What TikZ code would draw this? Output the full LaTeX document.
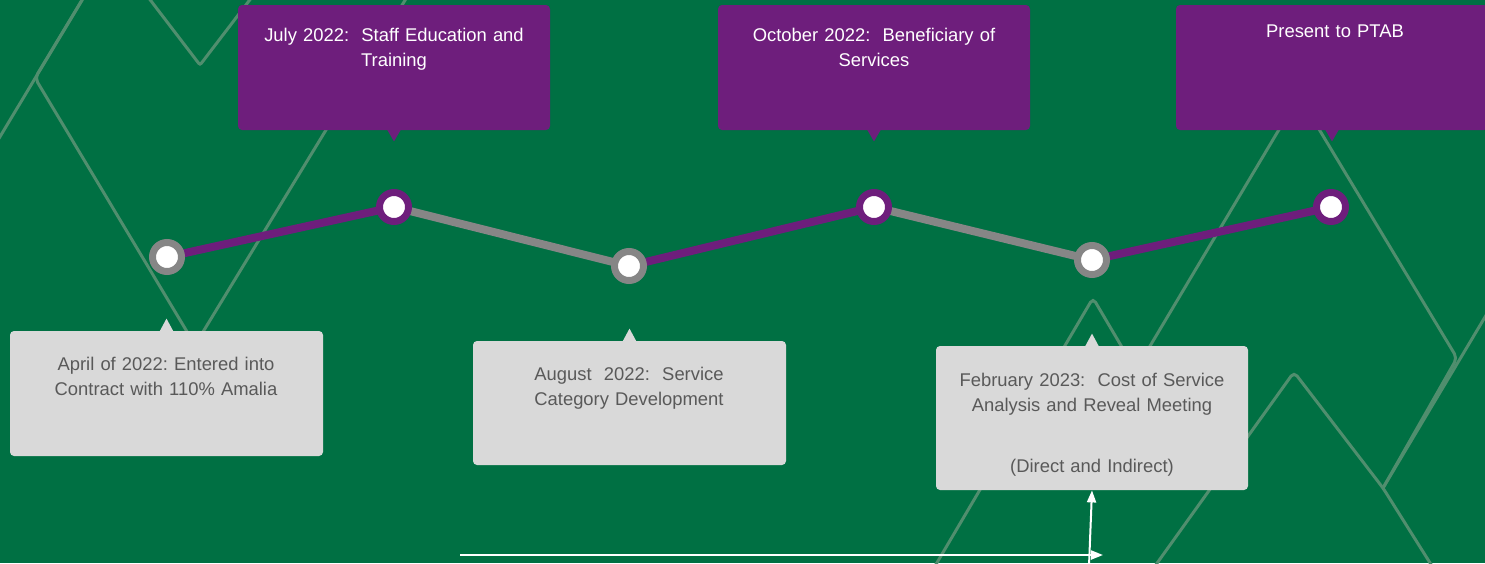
\documentclass[tikz,border=0pt]{standalone}
\usepackage{fontspec}
\setmainfont{Liberation Sans}
\usetikzlibrary{arrows.meta}
\definecolor{bggreen}{RGB}{0,112,67}
\definecolor{mtnline}{RGB}{80,142,110}
\definecolor{tlpurple}{RGB}{110,30,124}
\definecolor{tlgray}{RGB}{134,134,134}
\definecolor{boxgray}{RGB}{217,217,217}
\definecolor{txtgray}{RGB}{89,89,89}
\pgfdeclarelayer{back}
\pgfdeclarelayer{mid}
\pgfsetlayers{back,mid,main}
\frenchspacing
\begin{document}
\begin{tikzpicture}[x=0.5pt,y=-0.5pt,
  mtn/.style={draw=mtnline,line width=1.5pt,rounded corners=2.5pt},
  pbox/.style={fill=tlpurple,rounded corners=2pt,minimum width=156pt,minimum height=62.5pt,inner sep=0},
  gbox/.style={fill=boxgray,rounded corners=2pt,minimum width=156.5pt,minimum height=62.5pt,inner sep=0},
  ptxt/.style={text=white,font=\fontsize{9.2}{12.5}\selectfont,align=center,text width=150pt,inner sep=0,anchor=base},
  gtxt/.style={text=txtgray,font=\fontsize{9.2}{12.5}\selectfont,align=center,text width=150pt,inner sep=0,anchor=base},
  dot/.style={circle,minimum size=14.5pt,inner sep=0,line width=3.5pt,fill=white},
  seg/.style={line width=4pt},
  warrow/.style={draw=white,line width=1pt,-{Triangle[length=6pt,width=4.5pt]}}]
\clip (0,0) rectangle (1485,563);
\begin{pgfonlayer}{back}
\fill[bggreen] (0,0) rectangle (1485,563);
% mountain pattern
\draw[mtn] (84,-3) -- (-2,140);
\draw[mtn] (82,0) -- (35,78) -- (195,345) -- (407,-3);
\draw[mtn,rounded corners=1pt] (148,-3) -- (200,65) -- (252,-3);
\draw[mtn] (935,566) -- (1093,298) -- (1205,488);
\draw[mtn] (1299,96) -- (1100,430);
\draw[mtn] (1299,96) -- (1457,358) -- (1383,488);
\draw[mtn] (1488,312) -- (1383,488);
\draw[mtn] (1155,566) -- (1294,372) -- (1383,488) -- (1432,566);
\end{pgfonlayer}

% purple boxes
\node[pbox] (b1) at (394,67.5) {};
\node[pbox] (b2) at (874,67.5) {};
\node[pbox] (b3) at (1332,67.5) {};
\foreach \b in {b1,b2,b3}{
  \fill[tlpurple] ([xshift=-3.5pt,yshift=0.5pt]\b.south) -- ([yshift=-5.5pt]\b.south) -- ([xshift=3.5pt,yshift=0.5pt]\b.south) -- cycle;
}
\node[ptxt] (t1) at (394,41) {July 2022:\ \ Staff Education and\\Training};
\node[ptxt] (t2) at (874,41) {October 2022:\ \ Beneficiary of\\Services};
\node[ptxt] (t3) at (1335,37) {Present to PTAB};

% gray boxes
\node[gbox] (gA) at (166.5,393.5) {};
\node[gbox,minimum height=62pt] (gB) at (629.5,403) {};
\node[gbox,minimum width=156pt,minimum height=72pt] (gC) at (1092,418) {};
\foreach \b in {gA,gB,gC}{
  \fill[boxgray] ([xshift=-3.5pt,yshift=-0.5pt]\b.north) -- ([yshift=6pt]\b.north) -- ([xshift=3.5pt,yshift=-0.5pt]\b.north) -- cycle;
}
\node[gtxt] (tA) at (166,370) {April of 2022: Entered into\\Contract with 110\% Amalia};
\node[gtxt] (tB) at (629,380) {August\ \ 2022:\ \ Service\\Category Development};
\node[gtxt] (tC) at (1092,386) {February 2023:\ \ Cost of Service\\Analysis and Reveal Meeting\\[18.25pt](Direct and Indirect)};

% timeline
\node[dot,draw=tlgray] (p1) at (167,257) {};
\node[dot,draw=tlpurple] (p2) at (394,207) {};
\node[dot,draw=tlgray] (p3) at (629,266) {};
\node[dot,draw=tlpurple] (p4) at (874,207) {};
\node[dot,draw=tlgray] (p5) at (1092,260) {};
\node[dot,draw=tlpurple] (p6) at (1331,207) {};
\begin{pgfonlayer}{mid}
\draw[seg,tlpurple] (p1.center) -- (p2.center);
\draw[seg,tlgray] (p2.center) -- (p3.center);
\draw[seg,tlpurple] (p3.center) -- (p4.center);
\draw[seg,tlgray] (p4.center) -- (p5.center);
\draw[seg,tlpurple] (p5.center) -- (p6.center);
\end{pgfonlayer}

% white arrows
\coordinate (h0) at (460,555);
\coordinate (h1) at (1103,555);
\coordinate (v0) at (1089,566);
\draw[warrow] (h0) -- (h1);
\draw[warrow] (v0) -- (gC.south);
\end{tikzpicture}
\end{document}
